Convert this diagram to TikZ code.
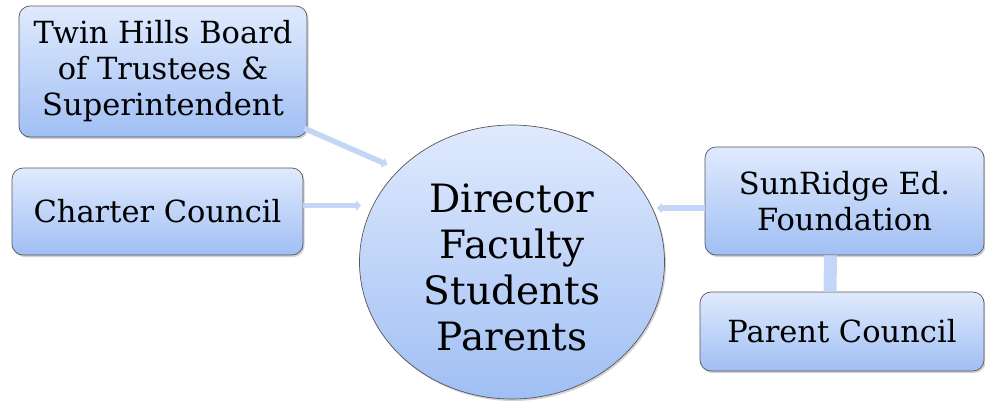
\documentclass[tikz,border=0pt]{standalone}
\usepackage{fontspec}
\setmainfont{DejaVu Serif}
\usetikzlibrary{shapes.geometric,shadows,arrows.meta,calc}
\definecolor{boxtop}{RGB}{224,234,253}
\definecolor{boxbot}{RGB}{160,191,244}
\definecolor{conncol}{RGB}{196,214,245}
\definecolor{edge}{RGB}{85,85,90}
\begin{document}
\begin{tikzpicture}[x=1pt,y=-1pt,
  box/.style={draw=edge,line width=0.7pt,rounded corners=11pt,top color=boxtop,bottom color=boxbot,
    drop shadow={shadow xshift=1.5pt,shadow yshift=-2pt,opacity=0.35},align=center,inner sep=0pt,
    font=\fontsize{30.5}{36}\selectfont},
  hub/.style={ellipse,draw=edge,line width=0.7pt,top color=boxtop,bottom color=boxbot,
    drop shadow={shadow xshift=1.5pt,shadow yshift=-2pt,opacity=0.35},align=center,inner sep=0pt,
    font=\fontsize{39}{46}\selectfont},
  conn/.style={draw=conncol,line width=5.5pt,-{Triangle[width=10pt,length=5pt]}},
  link/.style={draw=conncol,line width=13pt}]
\useasboundingbox (0,0) rectangle (985,400);
\node[box,minimum width=288pt,minimum height=131pt] (tw) at (163,71.5) {Twin Hills Board\\of Trustees \&\\Superintendent};
\node[box,minimum width=291pt,minimum height=87pt] (cc) at (157.5,211.5) {Charter Council};
\node[hub,minimum width=305pt,minimum height=274pt] (dir) at (512,262) {};
\node[align=center,inner sep=0pt,font=\fontsize{39}{46}\selectfont] (dirtext) at (512,267) {Director\\Faculty\\Students\\Parents};
\node[box,minimum width=279pt,minimum height=108pt] (sr) at (844.5,201) {SunRidge Ed.\\Foundation};
\node[box,minimum width=284pt,minimum height=79pt] (pc) at (842,331.5) {Parent Council};
\draw[link] ([xshift=-14pt]sr.south) -- ([xshift=-12pt]pc.north);
\draw[conn] ([shift={(-3pt,9pt)}]tw.south east) -- ($(dir.center)!1.08!(dir.142)$);
\draw[conn,shorten >=-2pt] ([yshift=6pt]cc.east) -- ([yshift=6pt]cc.east -| dir.west);
\draw[conn] ([yshift=-7pt]sr.west) -- ([xshift=-8pt]dir.east |- 0,208);
\end{tikzpicture}
\end{document}
